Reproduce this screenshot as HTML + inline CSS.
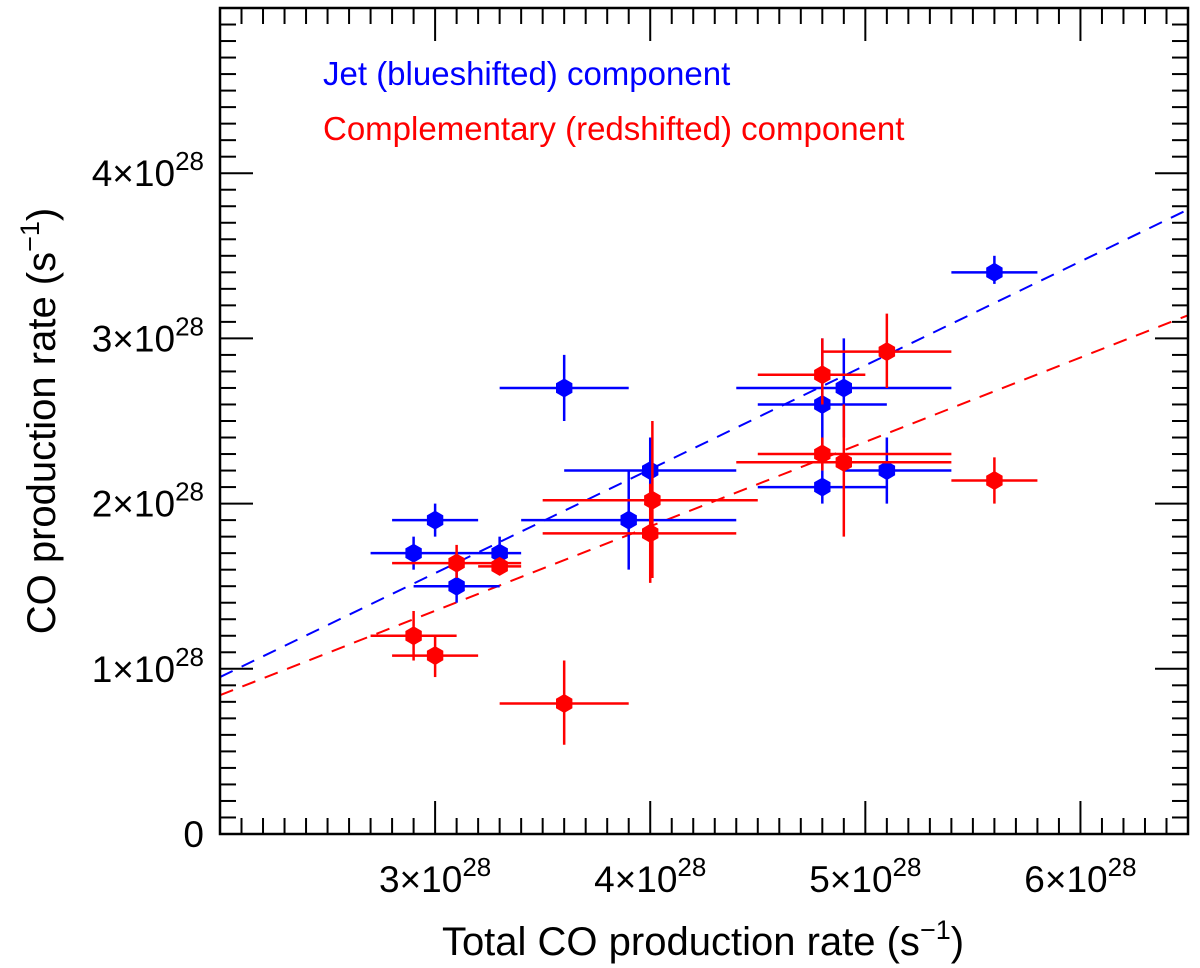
<!DOCTYPE html>
<html><head><meta charset="utf-8"><style>
body{margin:0;background:#fff}
svg{display:block;font-family:"Liberation Sans",sans-serif}
</style></head><body>
<svg id="c" width="1200" height="968"></svg>
<script>
const xTickVals=[3,4,5,6];
const yTickVals=[0,1,2,3,4];
const blueX=[2.9,3.0,3.1,3.3,3.6,3.9,4.0,4.8,4.9,4.8,5.1,5.6];
const blueY=[1.7,1.9,1.5,1.7,2.7,1.9,2.2,2.6,2.7,2.1,2.2,3.4];
const blueXlo=[2.7,2.8,2.9,3.1,3.3,3.4,3.6,4.5,4.4,4.5,4.9,5.4];
const blueXhi=[3.1,3.2,3.3,3.4,3.9,4.4,4.4,5.1,5.4,5.1,5.4,5.8];
const blueYlo=[1.6,1.8,1.4,1.6,2.5,1.6,2.0,2.2,2.4,2.0,2.0,3.33];
const blueYhi=[1.8,2.0,1.6,1.8,2.9,2.2,2.4,3.0,3.0,2.2,2.4,3.5];
const redX=[2.9,3.0,3.1,3.3,3.6,4.0,4.01,4.8,4.8,4.9,5.1,5.6];
const redY=[1.2,1.08,1.64,1.62,0.79,1.82,2.02,2.78,2.3,2.25,2.92,2.14];
const redXlo=[2.7,2.8,2.8,3.2,3.3,3.5,3.5,4.5,4.5,4.4,4.8,5.4];
const redXhi=[3.1,3.2,3.4,3.4,3.9,4.4,4.5,5.0,5.4,5.4,5.4,5.8];
const redYlo=[1.05,0.95,1.55,1.57,0.54,1.52,1.55,2.6,2.2,1.8,2.7,2.0];
const redYhi=[1.35,1.2,1.75,1.67,1.05,2.12,2.5,3.0,2.4,2.6,3.15,2.28];
const blueFit=[0.95,3.78];
const redFit=[0.84,3.14];
const XMIN=2,XMAX=6.5,YMIN=0,YMAX=5;
const L=220,R=1188,T=8,B=834;
const xs=v=>L+(v-XMIN)/(XMAX-XMIN)*(R-L);
const ys=v=>B-(v-YMIN)/(YMAX-YMIN)*(B-T);
const svg=document.getElementById('c');
const NS='http://www.w3.org/2000/svg';
function mk(t,a,p){const e=document.createElementNS(NS,t);for(const k in a)e.setAttribute(k,a[k]);(p||svg).appendChild(e);return e;}
const tg=mk('g',{stroke:'#000','stroke-width':2});


for(let i=21;i<=65;i++){const v=i/10,x=xs(v),maj=i%10==0,len=maj?33:16;
 mk('line',{x1:x,y1:B,x2:x,y2:B-len},tg);mk('line',{x1:x,y1:T,x2:x,y2:T+len},tg);}
for(let i=1;i<50;i++){const v=i/10,y=ys(v),maj=i%10==0,len=maj?33:16;
 mk('line',{x1:L,y1:y,x2:L+len,y2:y},tg);mk('line',{x1:R,y1:y,x2:R-len,y2:y},tg);}
xTickVals.forEach(v=>{const t=mk('text',{x:xs(v),y:892,'text-anchor':'middle','font-size':37});
 
 t.innerHTML=v+'×10<tspan dy="-16" font-size="26">28</tspan>';});
yTickVals.forEach(v=>{const t=mk('text',{x:204,y:ys(v)+13,'text-anchor':'end','font-size':37});
 
 t.innerHTML=v==0?'0':v+'×10<tspan dy="-16" font-size="26">28</tspan>';});
const xt=mk('text',{x:703,y:955,'text-anchor':'middle','font-size':40});

xt.innerHTML='Total CO production rate (s<tspan dy="-16" font-size="27">−1</tspan><tspan dy="16">)</tspan>';
const yt=mk('text',{x:0,y:0,'text-anchor':'middle','font-size':40,transform:'translate(55,421) rotate(-90)'});

yt.innerHTML='CO production rate (s<tspan dy="-16" font-size="27">−1</tspan><tspan dy="16">)</tspan>';
[[blueFit,'#0000ff','blue-fit-line'],[redFit,'#ff0000','red-fit-line']].forEach(([f,c,n])=>{
 const l=mk('line',{x1:xs(XMIN),y1:ys(f[0]),x2:xs(XMAX),y2:ys(f[1]),stroke:c,'stroke-width':2,'stroke-dasharray':'14,10'});
 });
function hex(cx,cy,r){let p=[];for(let k=0;k<6;k++){const a=Math.PI/6+k*Math.PI/3;p.push((cx+r*Math.cos(a)).toFixed(1)+','+(cy+r*Math.sin(a)).toFixed(1));}return p.join(' ');}
function series(X,Y,xl,xh,yl,yh,c,n){
 const g=mk('g',{});
 X.forEach((x,i)=>{
  const pg=mk('g',{stroke:c,'stroke-width':2.5},g);
  
  mk('line',{x1:xs(xl[i]),y1:ys(Y[i]),x2:xs(xh[i]),y2:ys(Y[i])},pg);
  mk('line',{x1:xs(x),y1:ys(yl[i]),x2:xs(x),y2:ys(yh[i])},pg);
  mk('polygon',{points:hex(xs(x),ys(Y[i]),9.5),fill:c,stroke:'none'},pg);
 });}
series(blueX,blueY,blueXlo,blueXhi,blueYlo,blueYhi,'#0000ff','blue-series');
series(redX,redY,redXlo,redXhi,redYlo,redYhi,'#ff0000','red-series');
const fr=mk('rect',{x:L,y:T,width:R-L,height:B-T,fill:'none',stroke:'#000','stroke-width':2.5});

const l1=mk('text',{x:323,y:85,'font-size':33,fill:'#0000ff'});l1.textContent='Jet (blueshifted) component';

const l2=mk('text',{x:323,y:140,'font-size':33,fill:'#ff0000'});l2.textContent='Complementary (redshifted) component';

</script>
</body></html>
